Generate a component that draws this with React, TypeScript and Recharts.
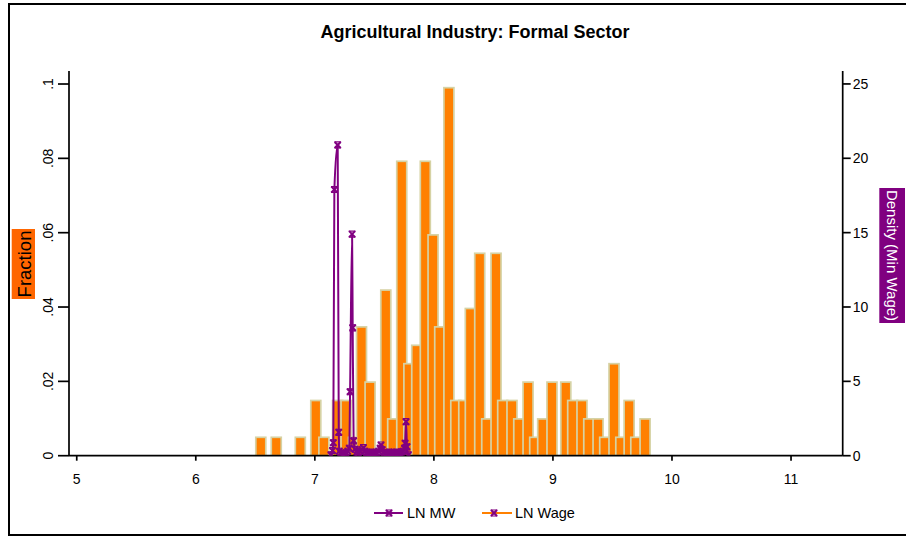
import React from "react";
import { Bar, ComposedChart, Legend, Line, XAxis, YAxis } from "recharts";

// LN Wage histogram (discrete values), counts out of N_OBS
const N_OBS = 202;
const wageBins = [
  6.546, 6.676, 6.878, 7.008, 7.076, 7.191, 7.262, 7.325, 7.392, 7.464, 7.596,
  7.654, 7.73, 7.79, 7.856, 7.928, 7.993, 8.049, 8.126, 8.184, 8.251, 8.306,
  8.385, 8.444, 8.522, 8.578, 8.656, 8.713, 8.791, 8.847, 8.914, 8.992, 9.108,
  9.166, 9.244, 9.301, 9.379, 9.435, 9.513, 9.57, 9.64, 9.696, 9.774,
];
const wageCounts = [
  1, 1, 1, 3, 1, 3, 3, 1, 7, 4, 9, 2, 16, 5, 6, 16, 12, 7, 20, 3, 3, 8, 11, 2,
  11, 3, 3, 2, 4, 1, 2, 4, 4, 3, 3, 2, 2, 1, 5, 1, 3, 1, 2,
];

// LN MW kernel density
const mwX = [
  7.135, 7.148, 7.155, 7.164, 7.192, 7.201, 7.206, 7.218, 7.232, 7.248, 7.262,
  7.276, 7.289, 7.296, 7.313, 7.318, 7.326, 7.338, 7.352, 7.366, 7.38, 7.395,
  7.408, 7.42, 7.434, 7.448, 7.462, 7.476, 7.49, 7.505, 7.52, 7.535, 7.548,
  7.556, 7.566, 7.58, 7.595, 7.61, 7.625, 7.64, 7.655, 7.67, 7.685, 7.7, 7.714,
  7.728, 7.742, 7.752, 7.758, 7.766, 7.774, 7.786,
];
const mwDensity = [
  0.05, 0.35, 0.87, 17.9, 20.9, 1.57, 0.3, 0.15, 0.1, 0.12, 0.2, 0.3, 0.5, 4.3,
  14.9, 8.6, 1.0, 0.43, 0.25, 0.2, 0.3, 0.4, 0.54, 0.3, 0.2, 0.15, 0.2, 0.25,
  0.2, 0.15, 0.2, 0.3, 0.5, 0.72, 0.4, 0.2, 0.15, 0.2, 0.25, 0.2, 0.15, 0.2,
  0.25, 0.2, 0.2, 0.25, 0.3, 0.5, 0.83, 2.29, 0.6, 0.05,
];

const xTicks = [5, 6, 7, 8, 9, 10, 11];
const fracTicks = [0, 0.02, 0.04, 0.06, 0.08, 0.1];
const densTicks = [0, 5, 10, 15, 20, 25];

const PURPLE = "#800080";
const ORANGE = "#ff8000";
const BAR_EDGE = "#d6d2a4";
const BAR_W = 10;
const FONT = '"Liberation Sans", Arial, Helvetica, sans-serif';

const histData = wageBins.map((x, i) => ({ x, frac: wageCounts[i] / N_OBS }));
const mwData = mwX.map((x, i) => ({ x, dens: mwDensity[i] }));

function fmtFrac(v: number) {
  return v === 0 ? "0" : String(v).replace(/^0/, "");
}

function XMark({ cx, cy }: { cx: number; cy: number }) {
  return (
    <g transform={`translate(${cx},${cy})`} stroke={PURPLE} fill="none">
      <path d="M-3,-3 L3,3 M-3,3 L3,-3" strokeWidth={2.1} />
      <path d="M-3.4,-3 L3.4,-3 M-3.4,3 L3.4,3" strokeWidth={1.2} />
    </g>
  );
}

// bars sit on a numeric axis, so centre a fixed-width rect on the scaled x
function WageBar(p: any) {
  const cx = p.x + p.width / 2;
  return (
    <rect
      x={cx - BAR_W / 2}
      y={p.y}
      width={BAR_W}
      height={p.height}
      fill={ORANGE}
      stroke={BAR_EDGE}
      strokeWidth={1.7}
    />
  );
}

function FracTick({ x, y, payload }: any) {
  return (
    <text
      x={x}
      y={y}
      transform={`rotate(-90, ${x}, ${y})`}
      textAnchor="middle"
      fontSize={14}
      fontFamily={FONT}
      fill="#000"
    >
      {fmtFrac(payload.value)}
    </text>
  );
}

function FractionTitle() {
  return (
    <g>
      <rect x={11.7} y={229} width={23.3} height={70} fill="#ff6600" />
      <text
        x={24}
        y={264}
        transform="rotate(-90, 24, 264)"
        textAnchor="middle"
        dominantBaseline="central"
        fontSize={18.5}
        fontFamily={FONT}
        fill="#000"
      >
        Fraction
      </text>
    </g>
  );
}

function DensityTitle() {
  return (
    <g>
      <rect x={879.3} y={188} width={25.7} height={135} fill={PURPLE} />
      <text
        x={892}
        y={255.5}
        transform="rotate(90, 892, 255.5)"
        textAnchor="middle"
        dominantBaseline="central"
        fontSize={15}
        fontFamily={FONT}
        fill="#fff"
      >
        Density (Min Wage)
      </text>
    </g>
  );
}

function LegendBox() {
  return (
    <svg width={906} height={30} style={{ display: "block" }}>
      <line x1={374} x2={403} y1={13} y2={13} stroke={PURPLE} strokeWidth={2} />
      <XMark cx={389} cy={13} />
      <text x={407} y={18} fontSize={14.5} fontFamily={FONT} fill="#000">
        LN MW
      </text>
      <line x1={482} x2={512} y1={13} y2={13} stroke={ORANGE} strokeWidth={2} />
      <XMark cx={494} cy={13} />
      <text x={515} y={18} fontSize={14.5} fontFamily={FONT} fill="#000">
        LN Wage
      </text>
    </svg>
  );
}

export default function App() {
  const axisStroke = { stroke: "#000", strokeWidth: 1.7 };
  return (
    <div
      style={{
        position: "absolute",
        left: 0,
        top: 0,
        width: 906,
        height: 537,
        overflow: "hidden",
        background: "#fff",
        fontFamily: FONT,
      }}
    >
      {/* outer frame, open on the right like the original export */}
      <div
        style={{
          position: "absolute",
          left: 8,
          top: 2.7,
          width: 940,
          height: 529.8,
          border: "2px solid #000",
        }}
      />
      <span
        style={{
          position: "absolute",
          left: 475,
          top: 22,
          transform: "translateX(-50%)",
          whiteSpace: "nowrap",
          fontSize: 18,
          fontWeight: "bold",
          color: "#000",
        }}
      >
        Agricultural Industry: Formal Sector
      </span>
      <ComposedChart
        width={906}
        height={537}
        data={histData}
        margin={{ top: 71, right: 3.3, bottom: 51.3, left: 0 }}
        style={{ position: "absolute", left: 0, top: 0 }}
      >
        <XAxis
          dataKey="x"
          type="number"
          domain={[4.935, 11.434]}
          ticks={xTicks}
          allowDataOverflow
          interval={0}
          height={30}
          tickSize={5}
          tickMargin={13}
          axisLine={axisStroke}
          tickLine={axisStroke}
          tick={{ fill: "#000", fontSize: 14, fontFamily: FONT }}
        />
        <YAxis
          yAxisId="left"
          domain={[0, 0.1035]}
          ticks={fracTicks}
          allowDataOverflow
          interval={0}
          width={69}
          tickSize={11}
          tickMargin={5}
          axisLine={axisStroke}
          tickLine={axisStroke}
          tick={<FracTick />}
          label={<FractionTitle />}
        />
        <YAxis
          yAxisId="right"
          orientation="right"
          domain={[0, 25.87]}
          ticks={densTicks}
          allowDataOverflow
          interval={0}
          width={60}
          tickSize={8}
          tickMargin={2}
          axisLine={axisStroke}
          tickLine={axisStroke}
          tick={{ fill: "#000", fontSize: 14, fontFamily: FONT }}
          label={<DensityTitle />}
        />
        <Bar
          yAxisId="left"
          dataKey="frac"
          fill={ORANGE}
          shape={<WageBar />}
          isAnimationActive={false}
        />
        <Line
          yAxisId="right"
          data={mwData}
          dataKey="dens"
          type="monotone"
          stroke={PURPLE}
          strokeWidth={2}
          dot={(p: any) => <XMark key={`m${p.index}`} cx={p.cx} cy={p.cy} />}
          activeDot={false}
          isAnimationActive={false}
        />
        <Legend
          verticalAlign="middle"
          align="center"
          content={<LegendBox />}
          wrapperStyle={{ top: 500, left: 0, width: 906, height: 30 }}
        />
      </ComposedChart>
    </div>
  );
}
